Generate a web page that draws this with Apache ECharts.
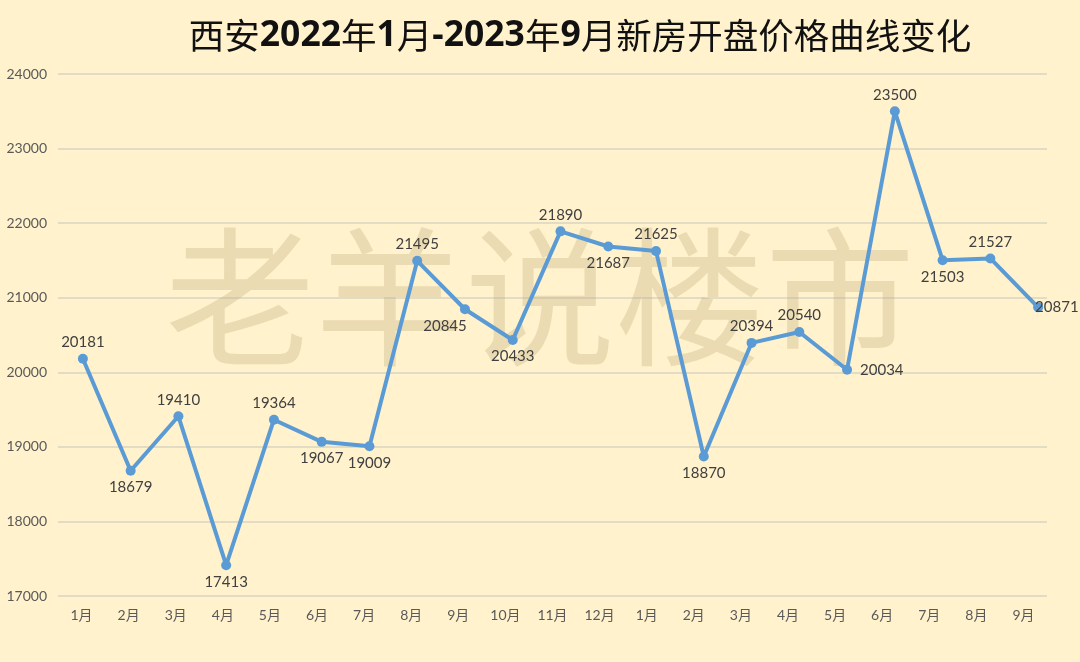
<!DOCTYPE html>
<html><head><meta charset="utf-8">
<script src="https://cdn.jsdelivr.net/npm/echarts@6/dist/echarts.min.js"></script>
<style>html,body{margin:0;padding:0;background:#FFF2CC;}#c{width:1080px;height:662px;}</style>
</head><body><div id="c"></div>
<script>
const categories = ['1月','2月','3月','4月','5月','6月','7月','8月','9月','10月','11月','12月','1月','2月','3月','4月','5月','6月','7月','8月','9月'];
const prices = [20181,18679,19410,17413,19364,19067,19009,21495,20845,20433,21890,21687,21625,18870,20394,20540,20034,23500,21503,21527,20871];
const labelPos = ['top','bottom','top','bottom','top','bottom','bottom','top','bottom','bottom','top','bottom','top','bottom','top','top','right','top','bottom','top','right'];
const yTicks = [17000,18000,19000,20000,21000,22000,23000,24000];

const FONT = "Lato, 'Noto Sans CJK SC', sans-serif";
const data = prices.map((v,i)=>{
  const d = {value:v, label:{position:labelPos[i]}};
  if (i===8) d.label.offset=[-20,0];
  if (i===16) d.label.offset=[4,0];
  if (i===20) d.label.offset=[-12,0];
  return d;
});

const chart = echarts.init(document.getElementById('c'));
chart.setOption({
  backgroundColor:'#FFF2CC',
  animation:false,
  title:{
    left:575, textAlign:'center', top:13,
    text:'{a|西安}{b|2022}{a|年}{b|1}{a|月}{b|-2023}{a|年}{b|9}{a|月新房开盘价格曲线变化}',
    textStyle:{
      rich:{
        a:{fontFamily:"'Noto Sans CJK SC'",fontSize:35.5,fontWeight:'normal',color:'#111'},
        b:{fontFamily:"'Noto Sans', 'Noto Sans CJK SC'",fontSize:35.5,fontWeight:'bold',color:'#111'}
      }
    }
  },
  graphic:[{
    type:'text', left:'center', top:222, z:1, silent:true,
    style:{text:'老羊说楼市', fontFamily:"'Noto Sans CJK SC'", fontSize:150, fill:'rgba(175,150,105,0.25)'}
  }],
  grid:[
    {left:58, right:33, top:74, bottom:66},
    {left:59, right:18, top:74, bottom:66}
  ],
  xAxis:[
    {type:'category', gridIndex:0, data:categories, boundaryGap:true,
     axisLine:{show:false}, axisTick:{show:false},
     axisLabel:{color:'#595959', fontSize:14, fontFamily:FONT, margin:12, interval:0}},
    {type:'category', gridIndex:1, data:categories, boundaryGap:true, show:false}
  ],
  yAxis:[
    {type:'value', gridIndex:0, min:yTicks[0], max:yTicks[yTicks.length-1], interval:1000,
     axisLine:{show:false}, axisTick:{show:false},
     axisLabel:{color:'#595959', fontSize:14, fontFamily:FONT, margin:11, formatter:v=>String(v)},
     splitLine:{lineStyle:{color:'#DAD5C2', width:1.5}}},
    {type:'value', gridIndex:1, min:yTicks[0], max:yTicks[yTicks.length-1], interval:1000, show:false, splitLine:{show:false}}
  ],
  series:[{
    type:'line', xAxisIndex:1, yAxisIndex:1, data:data, z:3,
    symbol:'circle', symbolSize:10,
    lineStyle:{color:'#5B9BD5', width:4},
    itemStyle:{color:'#5B9BD5'},
    label:{show:true, color:'#404040', fontSize:15, fontFamily:FONT, distance:4}
  }]
});
</script></body></html>
